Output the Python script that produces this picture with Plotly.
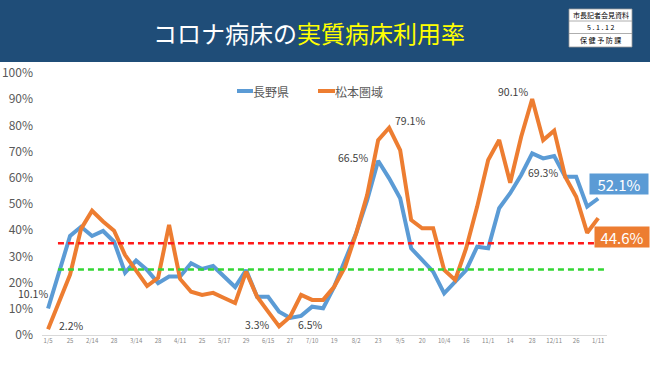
import plotly.graph_objects as go

# ---- data ----
tick_labels = ["1/5", "25", "2/14", "28", "3/14", "28", "4/11", "25", "5/17", "29",
               "6/15", "27", "7/10", "19", "8/2", "23", "9/5", "20", "10/4", "16",
               "11/1", "14", "28", "12/11", "26", "1/11"]
nagano = [10.1, 24.0, 37.8, 41.3, 37.8, 39.7, 35.6, 23.8, 28.4, 24.8, 19.8, 22.3,
          22.3, 27.4, 25.2, 26.3, 22.3, 18.3, 24.8, 14.6, 14.6, 8.9, 6.5,
          7.3, 10.8, 10.2, 18.4, 28.6, 38.8, 51.5, 66.5, 59.8, 52.2, 33.1, 28.9,
          24.2, 15.9, 20.3, 24.8, 33.7, 33.1, 48.4, 54.1, 61.1, 69.3, 67.4, 68.3,
          60.4, 60.4, 49.0, 52.1]
matsumoto = [2.2, 12.2, 23.0, 40.5, 47.4, 43.3, 39.8, 30.5, 24.5, 18.7, 21.8, 42.0,
             21.4, 16.5, 15.3, 16.1, 14.1, 12.2, 24.2, 14.6, 8.9, 3.3, 7.0,
             15.3, 13.4, 13.4, 18.4, 26.1, 38.8, 53.4, 74.4, 79.1, 70.6, 43.9, 40.7,
             40.7, 24.8, 21.0, 33.1, 49.0, 66.8, 74.4, 58.1, 75.7, 90.1, 74.4, 78.0,
             60.4, 52.8, 39.0, 44.6]
threshold_red = 35
threshold_green = 25
series_names = ["長野県", "松本圏域"]

idx = list(range(len(nagano)))
tickvals = idx[::2]

BLUE = "#5B9BD5"
ORANGE = "#ED7D31"
NAVY = "#1F4D78"
FONT = "Noto Sans CJK JP"

fig = go.Figure()
fig.add_trace(go.Scatter(x=idx, y=nagano, mode="lines", name=series_names[0],
                         line=dict(color=BLUE, width=4), showlegend=False, hoverinfo="skip"))
fig.add_trace(go.Scatter(x=idx, y=matsumoto, mode="lines", name=series_names[1],
                         line=dict(color=ORANGE, width=4), showlegend=False, hoverinfo="skip"))

# plot area geometry (px)
L, R, T, B = 42, 43, 73, 30
W, H = 650, 365
pw, ph = W - L - R, H - T - B
def px(x):
    return (x - L) / pw
def py(y):
    return (H - B - y) / ph

shapes = [
    # header bar
    dict(type="rect", xref="paper", yref="paper", x0=px(0), x1=px(W), y0=py(62), y1=py(0),
         fillcolor=NAVY, line=dict(width=0), layer="below"),
    # stamp box
    dict(type="rect", xref="paper", yref="paper", x0=px(569), x1=px(632), y0=py(47), y1=py(9),
         fillcolor="white", line=dict(color="#999", width=0.8)),
    dict(type="line", xref="paper", yref="paper", x0=px(569), x1=px(632), y0=py(21), y1=py(21),
         line=dict(color="#999", width=0.8)),
    dict(type="line", xref="paper", yref="paper", x0=px(569), x1=px(632), y0=py(33.5), y1=py(33.5),
         line=dict(color="#999", width=0.8)),
    # thresholds
    dict(type="line", xref="x", yref="y", x0=0.9, x1=50.8, y0=threshold_red, y1=threshold_red,
         line=dict(color="#FF1A1A", width=2.5, dash="6px,4px")),
    dict(type="line", xref="x", yref="y", x0=0.9, x1=50.8, y0=threshold_green, y1=threshold_green,
         line=dict(color="#33D633", width=2.5, dash="6px,4px")),
    # legend keys
    dict(type="line", xref="paper", yref="paper", x0=px(237), x1=px(253), y0=py(91), y1=py(91),
         line=dict(color=BLUE, width=4)),
    dict(type="line", xref="paper", yref="paper", x0=px(318), x1=px(335), y0=py(91), y1=py(91),
         line=dict(color=ORANGE, width=4)),
]

ann = []
# title
ann.append(dict(xref="paper", yref="paper", x=px(309), y=py(33), showarrow=False,
                text="コロナ病床の<span style='color:#FFFF00'>実質病床利用率</span>",
                font=dict(family=FONT, size=24, color="white"), xanchor="center", yanchor="middle"))
for t, yy in [("市長記者会見資料", 15), ("5 . 1 . 1 2", 27.5), ("保 健 予 防 課", 40.5)]:
    ann.append(dict(xref="paper", yref="paper", x=px(600.5), y=py(yy), showarrow=False, text=t,
                    font=dict(family=FONT, size=7, color="black"), xanchor="center", yanchor="middle"))
# legend texts
for t, xx in [(series_names[0], 253), (series_names[1], 335)]:
    ann.append(dict(xref="paper", yref="paper", x=px(xx), y=py(91), showarrow=False, text=t,
                    font=dict(family=FONT, size=12, color="#595959"), xanchor="left",
                    yanchor="middle", xshift=-2))

lab_font = dict(family=FONT, size=10.5, color="#404040")
def lab(i, series, text, xanchor, xshift, yshift):
    ann.append(dict(x=i, y=series[i], xref="x", yref="y", text=text, showarrow=False,
                    xanchor=xanchor, yanchor="middle", xshift=xshift, yshift=yshift, font=lab_font,
                    borderpad=0))

lab(0, nagano, f"{nagano[0]}%", "right", 1, 15)
lab(0, matsumoto, f"{matsumoto[0]}%", "left", 10, 4)
lab(21, matsumoto, f"{matsumoto[21]}%", "right", -8, 2)
lab(22, nagano, f"{nagano[22]}%", "left", 7, -7)
lab(30, nagano, f"{nagano[30]}%", "right", -9, 3)
lab(31, matsumoto, f"{matsumoto[31]}%", "left", 5, 7)
lab(44, matsumoto, f"{matsumoto[44]}%", "right", -3, 7)
lab(44, nagano, f"{nagano[44]}%", "left", -5, -19)

# end labels
n = len(nagano) - 1
ann.append(dict(x=n, y=nagano[n], xref="x", yref="y", text=f"{nagano[n]}%", showarrow=False,
                xanchor="left", yanchor="middle", xshift=-9, yshift=15, bgcolor=BLUE,
                width=56, height=18, borderpad=1,
                font=dict(family=FONT, size=15, color="white")))
ann.append(dict(x=n, y=matsumoto[n], xref="x", yref="y", text=f"{matsumoto[n]}%", showarrow=False,
                xanchor="left", yanchor="middle", xshift=-4, yshift=-19, bgcolor=ORANGE,
                width=52, height=18, borderpad=1,
                font=dict(family=FONT, size=15, color="white")))

fig.update_layout(
    width=W, height=H,
    margin=dict(l=L, r=R, t=T, b=B, pad=0, autoexpand=False),
    paper_bgcolor="white", plot_bgcolor="white",
    shapes=shapes, annotations=ann,
    showlegend=False,
    hovermode=False,
    xaxis=dict(range=[-0.55, 50.8], tickmode="array", tickvals=tickvals, ticktext=tick_labels,
               showgrid=False, zeroline=False, showline=True, linecolor="#D9D9D9", linewidth=1,
               ticks="", tickfont=dict(family=FONT, size=6, color="#888"), tickangle=0,
               automargin=False),
    yaxis=dict(range=[0, 100], dtick=10, ticksuffix="%", showgrid=False, zeroline=False,
               showline=False, ticks="", tickfont=dict(family=FONT, size=12, color="#595959"),
               automargin=False, ticklabelstandoff=8),
)

fig.write_html("out.html", config={"displayModeBar": False},
               post_script="document.body.style.margin='0';document.body.style.padding='0';")
